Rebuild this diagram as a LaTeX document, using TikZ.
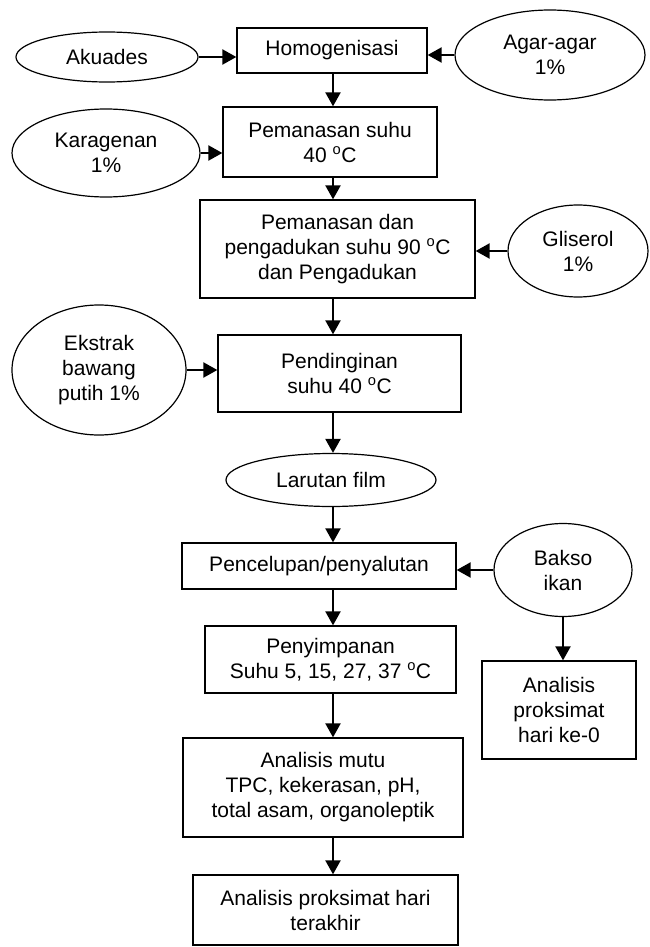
\documentclass[tikz,border=0pt]{standalone}
\usepackage{fontspec}
\setmainfont{Liberation Sans}
\usetikzlibrary{shapes.geometric,arrows.meta}
\newcommand{\dg}{\textsuperscript{o}}
\tikzset{
  every node/.style={font=\fontsize{21}{25}\selectfont, align=center, inner sep=0pt},
  pbox/.style={draw, rectangle, line width=1.3pt},
  pell/.style={draw, ellipse, line width=1.2pt},
  flow/.style={line width=2.2pt, -{Triangle[length=14pt,width=15pt]}}
}
\begin{document}
\begin{tikzpicture}[x=1pt,y=-1pt]
\useasboundingbox (0,0) rectangle (649,947);
\coordinate (axis) at (333,0);
% process boxes
\node[pbox, minimum width=190, minimum height=45] (homo) at (332,50.5) {Homogenisasi};
\node[pbox, minimum width=214, minimum height=70] (pem40) at (330,142) {Pemanasan suhu\\40 \dg C};
\node[pbox, minimum width=275, minimum height=98] (pemdan) at (337.5,249) {Pemanasan dan\\pengadukan suhu 90 \dg C\\dan Pengadukan};
\node[pbox, minimum width=243, minimum height=77] (dingin) at (339.5,373.5) {Pendinginan\\suhu 40 \dg C};
\node[pbox, minimum width=274, minimum height=46] (celup) at (319,566) {Pencelupan/penyalutan};
\node[pbox, minimum width=251, minimum height=67] (simpan) at (330.5,659.5) {Penyimpanan\\Suhu 5, 15, 27, 37 \dg C};
\node[pbox, minimum width=154, minimum height=98] (ke0) at (559,710) {Analisis\\proksimat\\hari ke-0};
\node[pbox, minimum width=280, minimum height=99] (mutu) at (323,787.5) {Analisis mutu\\TPC, kekerasan, pH,\\total asam, organoleptik};
\node[pbox, minimum width=265, minimum height=70] (akhir) at (325.5,910) {Analisis proksimat hari\\terakhir};
% ellipses
\node[pell, minimum width=182, minimum height=50] (akuades) at (107,57) {Akuades};
\node[pell, minimum width=190, minimum height=90] (agar) at (550,55) {Agar-agar\\1\%};
\node[pell, minimum width=188, minimum height=88] (kara) at (106,153) {Karagenan\\1\%};
\node[pell, minimum width=140, minimum height=92] (glis) at (578,251) {Gliserol\\1\%};
\node[pell, minimum width=174, minimum height=130] (ekstrak) at (99,370) {Ekstrak\\bawang\\putih 1\%};
\node[pell, minimum width=210, minimum height=53] (larutan) at (331,480) {Larutan film};
\node[pell, minimum width=138, minimum height=93] (bakso) at (563,570) {Bakso\\ikan};
% side inputs
\draw[flow] (akuades.east) -- (homo.west |- akuades.east);
\draw[flow] (agar.west) -- (homo.east |- agar.west);
\draw[flow] (kara.east) -- (pem40.west |- kara.east);
\draw[flow] (glis.west) -- (pemdan.east |- glis.west);
\draw[flow] (ekstrak.east) -- (dingin.west |- ekstrak.east);
\draw[flow] (bakso.west) -- (celup.east |- bakso.west);
\draw[flow] (bakso.south) -- (bakso.south |- ke0.north);
% main flow
\draw[flow] (axis |- homo.south) -- (axis |- pem40.north);
\draw[flow] (axis |- pem40.south) -- (axis |- pemdan.north);
\draw[flow] (axis |- pemdan.south) -- (axis |- dingin.north);
\draw[flow] (axis |- dingin.south) -- (axis |- larutan.north);
\draw[flow] (axis |- larutan.south) -- (axis |- celup.north);
\draw[flow] (axis |- celup.south) -- (axis |- simpan.north);
\draw[flow] (axis |- simpan.south) -- (axis |- mutu.north);
\draw[flow] (axis |- mutu.south) -- (axis |- akhir.north);
\end{tikzpicture}
\end{document}
